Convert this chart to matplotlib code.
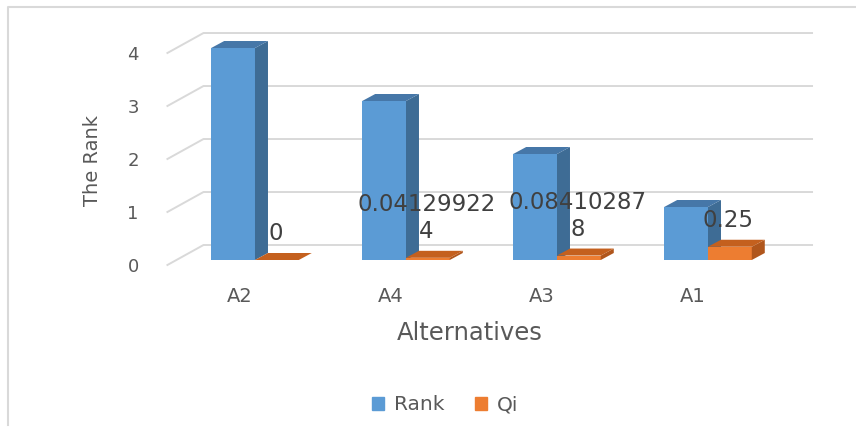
import matplotlib
matplotlib.use('Agg')
import matplotlib.pyplot as plt
from matplotlib.patches import Polygon, Patch

# data
alternatives = ['A2', 'A4', 'A3', 'A1']
rank = [4, 3, 2, 1]
qi = [0, 0.041299224, 0.084102878, 0.25]
yticks = [0, 1, 2, 3, 4]

fig = plt.figure(figsize=(8.56, 4.28), dpi=100)
ax = fig.add_axes([0, 0, 1, 1])
ax.set_xlim(-1.6887, 3.9801)
ax.set_ylim(-3.1698, 4.9057)
ax.axis('off')

# fake 3D geometry (data units)
barW = 0.29
depthX, depthY = 0.086, 0.132      # bar depth
frontX, frontY = -0.06, -0.094     # front plane of the side wall
backX, backY = 0.179, 0.283        # back wall
xlo, xhi = -0.52, 3.51
gridCol = '#d9d9d9'

for v in yticks:
    ax.plot([xlo + frontX, xlo + backX, xhi + backX],
            [v + frontY, v + backY, v + backY], color=gridCol, lw=1.4, zorder=1)
    ax.text(xlo - 0.25, v + frontY - 0.04, str(v), ha='right', va='center',
            fontsize=13, color='#595959')

def bar3d(x, h, front, side, top):
    ax.bar(x, h, width=barW, bottom=0, align='edge', color=front, zorder=3)
    ax.add_patch(Polygon([(x + barW, 0), (x + barW + depthX, depthY),
                          (x + barW + depthX, h + depthY), (x + barW, h)],
                         closed=True, facecolor=side, edgecolor='none', zorder=3))
    ax.add_patch(Polygon([(x, h), (x + depthX, h + depthY),
                          (x + barW + depthX, h + depthY), (x + barW, h)],
                         closed=True, facecolor=top, edgecolor='none', zorder=3))

for i in range(len(alternatives)):
    bar3d(i - barW, rank[i], '#5b9bd5', '#3e6c95', '#4677a8')
    bar3d(i, qi[i], '#ed7d31', '#b0561c', '#c4601e')
    # Excel wraps the long value labels
    s = str(qi[i])
    lbl = '\n'.join(s[k:k + 10] for k in range(0, len(s), 10))
    ax.text(i + barW / 2 - 0.01, qi[i] + 0.28, lbl, ha='center', va='bottom',
            fontsize=16.5, color='#404040', linespacing=1.2, zorder=5)
    ax.text(i - 0.1, -0.68, alternatives[i], ha='center', va='center',
            fontsize=14, color='#595959')

ax.text(1.424, -1.377, 'Alternatives', ha='center', va='center',
        fontsize=17.5, color='#595959')
ax.text(-1.079, 1.868, 'The Rank', ha='center', va='center', rotation=90,
        fontsize=14, color='#595959')

handles = [Patch(color='#5b9bd5'), Patch(color='#ed7d31')]
fig.legend(handles, ['Rank', 'Qi'], loc='center', bbox_to_anchor=(0.52, 0.054),
           ncol=2, frameon=False, fontsize=14.5, handlelength=0.6, handleheight=0.6,
           columnspacing=1.5, handletextpad=0.5, labelcolor='#595959')

# chart border (top and left visible)
fig.add_artist(plt.Line2D([8 / 856, 8 / 856, 1.0], [1 - 425 / 428, 1 - 7 / 428, 1 - 7 / 428],
                          transform=fig.transFigure, color='#d9d9d9', lw=1.5))

fig.savefig('out.png', dpi=100)
